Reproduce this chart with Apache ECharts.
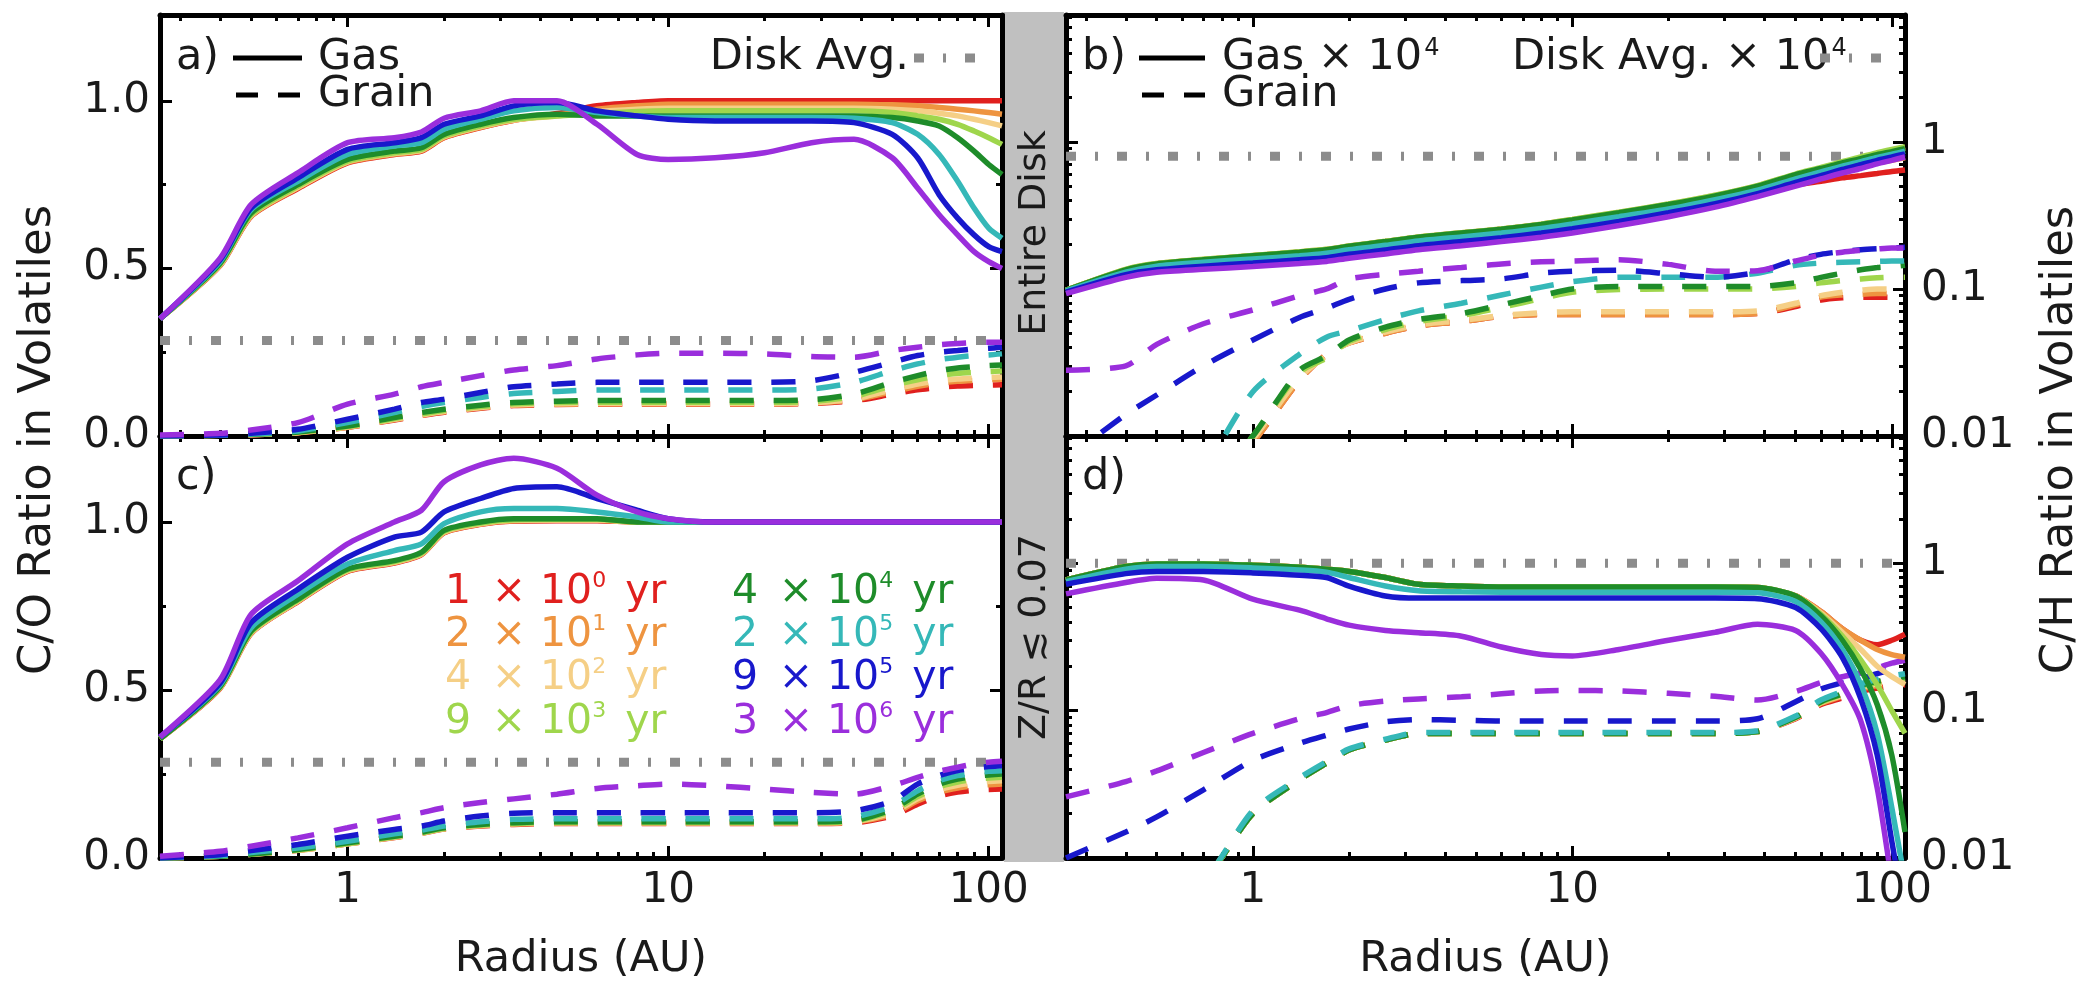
<!DOCTYPE html>
<html style="height: 100%">
<head>
    <meta charset="utf-8">
    <script src="https://cdn.jsdelivr.net/npm/echarts@6/dist/echarts.min.js"></script>
</head>
<body style="height:100%;margin:0;background:#fff">
    <div id="main" style="width:2087px;height:988px;"></div>
    <script type="text/javascript">

        // radius grid (AU) shared by every curve
        var R = [0.26, 0.4, 0.5, 0.7, 1, 1.4, 1.7, 2, 2.6, 3.3, 4.5, 6, 8, 10, 14, 20, 28, 38, 50, 60, 70, 80, 90, 100, 110];

        var AGES = ['1', '2', '4', '9', '4', '2', '9', '3'];
        var EXPS = ['0', '1', '2', '3', '4', '5', '5', '6'];
        var COLORS = ['#e0201e', '#ee9440', '#f5cf86', '#9fd64c', '#1e8c2a', '#35b8b8', '#1818cc', '#9a2edc'];

        var X_MAJOR = [1, 10, 100];
        var X_MINOR = [0.3, 0.4, 0.5, 0.6, 0.7, 0.8, 0.9, 2, 3, 4, 5, 6, 7, 8, 9, 20, 30, 40, 50, 60, 70, 80, 90];
        var CO_MAJOR = [0, 0.5, 1.0];
        var CO_MINOR = [0.25, 0.75];
        var CH_MAJOR = [0.01, 0.1, 1];
        var CH_MINOR = [0.02, 0.03, 0.04, 0.05, 0.06, 0.07, 0.08, 0.09, 0.2, 0.3, 0.4, 0.5, 0.6, 0.7, 0.8, 0.9, 2, 3, 4, 5, 6, 7];

        // disk averages: a, b, c, d
        var DISK_AVG = [0.285, 0.8, 0.285, 1.0];

        // ---- panel a: C/O, entire disk ----
        var aGas_1e0 = [.35,.508,.655,.738,.815,.84,.85,.89,.92,.942,.962,.985,.995,1,1,1,1,1,1,1,1,1,1,1,1];
        var aGas_2e1 = [.35,.51,.656,.74,.816,.841,.851,.891,.921,.942,.958,.975,.985,.99,.99,.99,.99,.99,.988,.985,.98,.975,.97,.965,.96];
        var aGas_4e2 = [.35,.51,.658,.742,.818,.843,.853,.893,.923,.943,.955,.968,.975,.978,.978,.978,.978,.978,.975,.97,.963,.955,.945,.935,.925];
        var aGas_9e3 = [.35,.512,.66,.745,.82,.845,.855,.895,.925,.945,.955,.962,.968,.97,.97,.97,.97,.97,.965,.955,.945,.93,.91,.89,.87];
        var aGas_4e4 = [.35,.515,.665,.75,.825,.85,.86,.9,.93,.95,.96,.955,.955,.955,.955,.955,.955,.955,.95,.94,.925,.89,.85,.81,.78];
        var aGas_2e5 = [.35,.52,.675,.76,.84,.865,.875,.915,.945,.97,.98,.965,.955,.95,.95,.95,.95,.948,.935,.9,.84,.76,.68,.62,.59];
        var aGas_9e5 = [.35,.525,.68,.77,.855,.875,.89,.93,.955,.985,.995,.97,.955,.945,.94,.94,.94,.935,.9,.83,.72,.65,.6,.565,.55];
        var aGas_3e6 = [.35,.53,.69,.785,.875,.89,.907,.948,.97,1.0,1.0,.93,.84,.825,.83,.845,.875,.885,.83,.74,.66,.6,.55,.52,.5];

        var aGrain_1e0 = [0,.002,.004,.01,.026,.048,.061,.071,.083,.091,.094,.095,.095,.095,.095,.095,.097,.105,.125,.138,.145,.149,.151,.152,.153];
        var aGrain_2e1 = [0,.002,.004,.01,.026,.049,.062,.072,.084,.092,.095,.096,.096,.096,.096,.096,.098,.108,.132,.148,.158,.163,.166,.168,.169];
        var aGrain_4e2 = [0,.002,.004,.01,.027,.05,.063,.073,.085,.093,.096,.097,.097,.097,.097,.097,.099,.11,.138,.155,.165,.17,.173,.175,.176];
        var aGrain_9e3 = [0,.002,.005,.011,.028,.052,.066,.076,.088,.096,.1,.101,.101,.101,.101,.101,.103,.118,.15,.168,.18,.187,.19,.192,.194];
        var aGrain_4e4 = [0,.002,.005,.012,.03,.055,.07,.08,.092,.1,.104,.106,.106,.106,.106,.106,.108,.125,.16,.18,.195,.203,.207,.21,.212];
        var aGrain_2e5 = [0,.002,.006,.015,.04,.07,.088,.1,.115,.127,.133,.137,.137,.137,.137,.137,.14,.16,.195,.215,.228,.235,.24,.242,.245];
        var aGrain_9e5 = [0,.003,.008,.02,.05,.08,.1,.11,.13,.147,.155,.16,.16,.16,.16,.16,.165,.19,.22,.24,.25,.255,.26,.262,.265];
        var aGrain_3e6 = [.003,.008,.018,.04,.095,.125,.147,.16,.18,.197,.21,.23,.242,.247,.247,.245,.237,.235,.255,.265,.272,.276,.279,.28,.28];

        // ---- panel b: C/H x 1e4, entire disk ----
        var bGas_1e0 = [.098,.135,.148,.158,.168,.178,.185,.195,.21,.225,.24,.255,.275,.295,.32,.36,.41,.46,.51,.54,.57,.59,.61,.63,.645];
        var bGas_2e1 = [.098,.135,.148,.158,.168,.178,.185,.195,.21,.225,.24,.255,.275,.295,.325,.365,.415,.48,.56,.6,.64,.68,.72,.75,.78];
        var bGas_4e2 = [.098,.136,.149,.159,.169,.179,.186,.196,.211,.226,.241,.256,.276,.297,.333,.378,.434,.505,.6,.66,.72,.78,.83,.87,.91];
        var bGas_9e3 = [.098,.136,.149,.159,.169,.179,.186,.196,.211,.226,.241,.256,.276,.297,.333,.378,.434,.505,.605,.67,.735,.79,.845,.89,.93];
        var bGas_4e4 = [.098,.135,.148,.158,.168,.178,.185,.195,.21,.225,.24,.255,.275,.295,.33,.375,.43,.5,.6,.66,.72,.77,.82,.86,.9];
        var bGas_2e5 = [.097,.13,.143,.152,.16,.168,.175,.185,.198,.212,.226,.24,.258,.277,.31,.35,.405,.47,.56,.625,.685,.735,.785,.825,.865];
        var bGas_9e5 = [.095,.125,.135,.143,.15,.158,.163,.172,.184,.197,.21,.223,.24,.257,.288,.33,.38,.445,.53,.59,.65,.7,.75,.79,.83];
        var bGas_3e6 = [.093,.12,.13,.136,.142,.149,.154,.162,.173,.185,.197,.21,.225,.24,.27,.31,.36,.425,.5,.56,.615,.66,.71,.75,.79];

        var bGrain_1e0 = [.0005,.001,.002,.004,.009,.024,.036,.043,.05,.056,.06,.065,.067,.067,.067,.067,.067,.068,.076,.084,.087,.088,.088,.088,.088];
        var bGrain_2e1 = [.0005,.001,.002,.004,.009,.024,.036,.043,.05,.056,.06,.065,.067,.067,.067,.067,.067,.068,.078,.088,.091,.092,.093,.093,.093];
        var bGrain_4e2 = [.0005,.001,.002,.004,.0095,.025,.035,.043,.051,.057,.061,.066,.069,.07,.07,.07,.07,.071,.08,.09,.095,.098,.1,.1,.1];
        var bGrain_9e3 = [.0005,.001,.002,.004,.01,.027,.034,.044,.053,.06,.066,.075,.086,.095,.099,.1,.1,.1,.104,.11,.114,.117,.119,.12,.12];
        var bGrain_4e4 = [.0005,.001,.002,.004,.01,.028,.035,.045,.055,.062,.068,.078,.09,.1,.104,.104,.104,.104,.11,.12,.128,.135,.14,.142,.145];
        var bGrain_2e5 = [.001,.002,.003,.006,.02,.036,.047,.052,.062,.071,.08,.091,.103,.112,.12,.12,.12,.128,.145,.15,.152,.153,.154,.155,.155];
        var bGrain_9e5 = [.007,.014,.019,.03,.045,.064,.074,.085,.1,.11,.114,.117,.128,.132,.134,.127,.12,.13,.158,.172,.18,.185,.188,.19,.192];
        var bGrain_3e6 = [.028,.03,.042,.058,.072,.09,.1,.117,.126,.132,.14,.148,.153,.155,.158,.147,.132,.133,.155,.17,.178,.183,.187,.19,.19];

        // ---- panel c: C/O, Z/R <= 0.07 ----
        var cGas_1e0 = [.355,.505,.668,.763,.853,.878,.903,.968,.993,1.003,1.004,1.004,1,1,1,1,1,1,1,1,1,1,1,1,1];
        var cGas_2e1 = [.355,.506,.669,.764,.854,.879,.904,.969,.994,1.004,1.005,1.005,1,1,1,1,1,1,1,1,1,1,1,1,1];
        var cGas_4e2 = [.355,.507,.67,.765,.855,.88,.905,.97,.995,1.005,1.006,1.006,1,1,1,1,1,1,1,1,1,1,1,1,1];
        var cGas_9e3 = [.355,.508,.672,.767,.857,.882,.907,.972,.997,1.007,1.008,1.008,1,1,1,1,1,1,1,1,1,1,1,1,1];
        var cGas_4e4 = [.355,.51,.675,.77,.86,.885,.91,.975,1.0,1.01,1.01,1.01,1,1,1,1,1,1,1,1,1,1,1,1,1];
        var cGas_2e5 = [.36,.515,.685,.785,.875,.915,.935,.995,1.03,1.04,1.04,1.03,1.015,1,1,1,1,1,1,1,1,1,1,1,1];
        var cGas_9e5 = [.36,.52,.70,.80,.895,.955,.97,1.03,1.07,1.1,1.105,1.07,1.035,1.01,1,1,1,1,1,1,1,1,1,1,1];
        var cGas_3e6 = [.36,.53,.725,.825,.935,1.0,1.035,1.12,1.17,1.19,1.16,1.08,1.03,1.01,1,1,1,1,1,1,1,1,1,1,1];

        var cGrain_1e0 = [0,.005,.011,.023,.042,.061,.073,.086,.095,.1,.103,.103,.103,.103,.103,.103,.103,.105,.125,.16,.185,.196,.202,.204,.205];
        var cGrain_2e1 = [0,.005,.011,.023,.042,.062,.074,.087,.096,.101,.104,.104,.104,.104,.104,.104,.104,.107,.13,.17,.196,.208,.215,.218,.22];
        var cGrain_4e2 = [0,.005,.011,.023,.042,.062,.074,.087,.097,.102,.105,.105,.105,.105,.105,.105,.105,.108,.135,.176,.203,.216,.224,.228,.23];
        var cGrain_9e3 = [0,.005,.011,.024,.043,.063,.075,.088,.098,.103,.106,.106,.106,.106,.106,.106,.106,.11,.14,.183,.212,.226,.234,.238,.24];
        var cGrain_4e4 = [0,.005,.012,.025,.045,.065,.077,.09,.1,.105,.108,.108,.108,.108,.108,.108,.108,.112,.145,.19,.22,.235,.243,.247,.25];
        var cGrain_2e5 = [0,.007,.016,.03,.05,.072,.083,.095,.108,.115,.117,.117,.117,.117,.117,.117,.117,.122,.155,.2,.23,.245,.253,.258,.26];
        var cGrain_9e5 = [0,.01,.022,.04,.065,.085,.095,.11,.125,.133,.135,.135,.135,.135,.135,.135,.135,.14,.17,.22,.245,.26,.268,.272,.275];
        var cGrain_3e6 = [.005,.02,.035,.06,.09,.12,.135,.15,.165,.176,.19,.207,.215,.22,.215,.205,.195,.19,.215,.24,.258,.27,.28,.285,.288];

        // ---- panel d: C/H x 1e4, Z/R <= 0.07 ----
        var dGas_1e0 = [.77,.95,.99,.99,.97,.94,.91,.88,.8,.72,.7,.69,.69,.69,.69,.69,.69,.685,.6,.47,.36,.3,.28,.3,.33];
        var dGas_2e1 = [.77,.95,.99,.99,.97,.94,.91,.88,.8,.72,.7,.69,.69,.69,.69,.69,.69,.685,.6,.47,.36,.3,.26,.24,.23];
        var dGas_4e2 = [.77,.95,.99,.99,.97,.94,.91,.88,.8,.72,.7,.69,.69,.69,.69,.69,.69,.685,.6,.46,.34,.26,.2,.17,.15];
        var dGas_9e3 = [.77,.95,.99,.99,.97,.94,.91,.88,.8,.72,.7,.69,.69,.69,.69,.69,.69,.685,.6,.45,.32,.22,.15,.1,.07];
        var dGas_4e4 = [.77,.95,.99,.99,.97,.94,.91,.88,.8,.72,.7,.69,.69,.69,.69,.69,.69,.685,.6,.44,.3,.19,.11,.05,.015];
        var dGas_2e5 = [.75,.91,.95,.95,.93,.9,.87,.8,.7,.65,.64,.635,.635,.635,.635,.635,.635,.63,.55,.4,.26,.15,.07,.022,.007];
        var dGas_9e5 = [.72,.85,.88,.88,.86,.83,.8,.7,.6,.58,.58,.58,.58,.58,.58,.58,.58,.575,.5,.36,.23,.12,.05,.013,.004];
        var dGas_3e6 = [.62,.74,.79,.77,.57,.48,.42,.38,.35,.338,.32,.27,.24,.235,.26,.3,.34,.385,.35,.245,.15,.085,.03,.007,.002];

        var dGrain_1e0 = [.002,.004,.005,.007,.02,.034,.044,.054,.063,.07,.07,.07,.07,.07,.07,.07,.07,.072,.088,.11,.122,.135,.142,.147,.15];
        var dGrain_2e1 = [.002,.004,.005,.007,.02,.034,.044,.054,.063,.07,.07,.07,.07,.07,.07,.07,.07,.072,.089,.112,.125,.14,.148,.153,.156];
        var dGrain_4e2 = [.002,.004,.005,.007,.02,.034,.044,.054,.063,.07,.07,.07,.07,.07,.07,.07,.07,.072,.089,.113,.127,.143,.152,.158,.162];
        var dGrain_9e3 = [.002,.004,.005,.007,.02,.034,.044,.054,.063,.07,.07,.07,.07,.07,.07,.07,.07,.072,.09,.114,.129,.146,.155,.162,.166];
        var dGrain_4e4 = [.002,.004,.005,.007,.02,.034,.044,.054,.063,.07,.07,.07,.07,.07,.07,.07,.07,.072,.09,.115,.13,.148,.158,.165,.17];
        var dGrain_2e5 = [.002,.004,.005,.007,.021,.035,.045,.055,.064,.071,.071,.071,.071,.071,.071,.071,.071,.073,.092,.118,.135,.152,.163,.172,.178];
        var dGrain_9e5 = [.01,.015,.019,.029,.046,.06,.068,.075,.084,.087,.086,.085,.085,.085,.085,.085,.085,.088,.115,.14,.155,.165,.178,.19,.2];
        var dGrain_3e6 = [.026,.033,.039,.052,.07,.088,.097,.108,.116,.12,.124,.13,.136,.137,.136,.131,.125,.118,.135,.155,.17,.18,.195,.21,.22];

        var PANEL_GAS = [
            [aGas_1e0, aGas_2e1, aGas_4e2, aGas_9e3, aGas_4e4, aGas_2e5, aGas_9e5, aGas_3e6],
            [bGas_1e0, bGas_2e1, bGas_4e2, bGas_9e3, bGas_4e4, bGas_2e5, bGas_9e5, bGas_3e6],
            [cGas_1e0, cGas_2e1, cGas_4e2, cGas_9e3, cGas_4e4, cGas_2e5, cGas_9e5, cGas_3e6],
            [dGas_1e0, dGas_2e1, dGas_4e2, dGas_9e3, dGas_4e4, dGas_2e5, dGas_9e5, dGas_3e6]
        ];
        var PANEL_GRAIN = [
            [aGrain_1e0, aGrain_2e1, aGrain_4e2, aGrain_9e3, aGrain_4e4, aGrain_2e5, aGrain_9e5, aGrain_3e6],
            [bGrain_1e0, bGrain_2e1, bGrain_4e2, bGrain_9e3, bGrain_4e4, bGrain_2e5, bGrain_9e5, bGrain_3e6],
            [cGrain_1e0, cGrain_2e1, cGrain_4e2, cGrain_9e3, cGrain_4e4, cGrain_2e5, cGrain_9e5, cGrain_3e6],
            [dGrain_1e0, dGrain_2e1, dGrain_4e2, dGrain_9e3, dGrain_4e4, dGrain_2e5, dGrain_9e5, dGrain_3e6]
        ];

        var FONT = '"DejaVu Sans", "Noto Sans", sans-serif';
        var X_MIN = 0.26, X_MAX = 110, CO_MAX = 1.256, CH_MIN = 0.01, CH_MAX = 7.3;

        var myChart = echarts.init(document.getElementById('main'), null, {renderer: 'canvas'});

        var grids = [
            {left: 160, top: 15, width: 842, height: 421},
            {left: 1066, top: 15, width: 839, height: 421},
            {left: 160, top: 436, width: 842, height: 422},
            {left: 1066, top: 436, width: 839, height: 422}
        ];
        grids.forEach(function (g) { g.containLabel = false; g.outerBoundsMode = 'none'; });

        function fmt(v) { return String(Number(Number(v).toPrecision(3))); }

        function mkAxis(dim, g, pos, type, min, max, ticks, len, line, labels, labelVals) {
            var ax = {
                type: type, gridIndex: g, position: pos, min: min, max: max,
                axisLine: {show: line, onZero: false, lineStyle: {color: '#000', width: 5}},
                axisTick: {show: true, inside: true, length: len, customValues: ticks,
                    lineStyle: {color: '#000', width: 3}},
                axisLabel: {show: false},
                splitLine: {show: false},
                minorTick: {show: false},
                silent: true
            };
            if (type === 'log') ax.logBase = 10;
            if (labels) {
                ax.axisLabel = {
                    show: true, customValues: labelVals, fontSize: 42, fontFamily: FONT, color: '#1a1a1a',
                    margin: dim === 'x' ? 12 : (pos === 'left' ? 10 : 16),
                    formatter: type === 'log' ? fmt : function (v) { return Number(v).toFixed(1); }
                };
            }
            return ax;
        }

        var xAxes = [], yAxes = [];
        for (var g = 0; g < 4; g++) {
            var bottomRow = g >= 2, rightCol = g % 2 === 1;
            var xm = mkAxis('x', g, 'bottom', 'log', X_MIN, X_MAX, X_MAJOR, 12, true, bottomRow, X_MAJOR);
            if (bottomRow) {
                xm.name = 'Radius (AU)';
                xm.nameLocation = 'middle';
                xm.nameGap = 80;
                xm.nameTextStyle = {fontSize: 43, fontFamily: FONT, color: '#1a1a1a'};
            }
            xAxes.push(xm,
                mkAxis('x', g, 'top', 'log', X_MIN, X_MAX, X_MAJOR, 12, true, false),
                mkAxis('x', g, 'bottom', 'log', X_MIN, X_MAX, X_MINOR, 6, false, false),
                mkAxis('x', g, 'top', 'log', X_MIN, X_MAX, X_MINOR, 6, false, false));
            if (rightCol) {
                yAxes.push(mkAxis('y', g, 'right', 'log', CH_MIN, CH_MAX, CH_MAJOR, 12, true, true, CH_MAJOR),
                    mkAxis('y', g, 'left', 'log', CH_MIN, CH_MAX, CH_MAJOR, 12, true, false),
                    mkAxis('y', g, 'right', 'log', CH_MIN, CH_MAX, CH_MINOR, 6, false, false),
                    mkAxis('y', g, 'left', 'log', CH_MIN, CH_MAX, CH_MINOR, 6, false, false));
            } else {
                yAxes.push(mkAxis('y', g, 'left', 'value', 0, CO_MAX, CO_MAJOR, 12, true, true, CO_MAJOR),
                    mkAxis('y', g, 'right', 'value', 0, CO_MAX, CO_MAJOR, 12, true, false),
                    mkAxis('y', g, 'left', 'value', 0, CO_MAX, CO_MINOR, 6, false, false),
                    mkAxis('y', g, 'right', 'value', 0, CO_MAX, CO_MINOR, 6, false, false));
            }
        }

        function pairs(vals) {
            return R.map(function (r, i) { return [r, vals[i]]; });
        }

        var series = [];
        for (var p = 0; p < 4; p++) {
            series.push({
                type: 'line', xAxisIndex: 4 * p, yAxisIndex: 4 * p, symbol: 'none', silent: true,
                data: [[X_MIN, DISK_AVG[p]], [X_MAX, DISK_AVG[p]]],
                lineStyle: {color: '#8c8c8c', width: 9, type: [10, 19, 3, 19], cap: 'butt'}, z: 1
            });
            for (var k = 0; k < 8; k++) {
                series.push({
                    type: 'line', xAxisIndex: 4 * p, yAxisIndex: 4 * p, symbol: 'none', silent: true,
                    smooth: 0.25, clip: true, data: pairs(PANEL_GRAIN[p][k]),
                    lineStyle: {color: COLORS[k], width: 5.5, type: [24, 20], cap: 'butt'}, z: 2
                });
            }
            for (var k2 = 0; k2 < 8; k2++) {
                series.push({
                    type: 'line', xAxisIndex: 4 * p, yAxisIndex: 4 * p, symbol: 'none', silent: true,
                    smooth: 0.25, clip: true, data: pairs(PANEL_GAS[p][k2]),
                    lineStyle: {color: COLORS[k2], width: 5.5}, z: 3
                });
            }
        }

        function txt(x, y, text, size, opts) {
            opts = opts || {};
            return {
                type: 'text', x: x, y: y, rotation: opts.rotation || 0, z: 10,
                style: {
                    text: text, fontSize: size, fontFamily: FONT, fill: opts.color || '#1a1a1a',
                    align: opts.align || 'left', textAlign: opts.align || 'left',
                    verticalAlign: 'middle', textVerticalAlign: 'middle',
                    rich: opts.rich
                }
            };
        }
        function seg(x1, x2, y, style) {
            return {type: 'line', z: 10, shape: {x1: x1, y1: y, x2: x2, y2: y}, style: style};
        }
        var solid = {stroke: '#000', lineWidth: 5};
        var dashed = {stroke: '#000', lineWidth: 5, lineDash: [22, 20]};
        var dotted = {stroke: '#8c8c8c', lineWidth: 9, lineDash: [10, 19, 3, 19]};
        var supRich = {sup: {fontSize: 24, fontFamily: FONT, fill: '#1a1a1a', verticalAlign: 'top', padding: [0, 0, 18, 2]}};

        var graphics = [
            {type: 'rect', z: -1, shape: {x: 1004, y: 12, width: 60, height: 850}, style: {fill: '#c0c0c0'}},
            txt(1035, 233, 'Entire Disk', 38, {align: 'center', rotation: Math.PI / 2}),
            txt(1035, 637, 'Z/R \u2272 0.07', 38, {align: 'center', rotation: Math.PI / 2}),
            txt(38, 440, 'C/O Ratio in Volatiles', 45, {align: 'center', rotation: Math.PI / 2}),
            txt(2060, 440, 'C/H Ratio in Volatiles', 45, {align: 'center', rotation: Math.PI / 2}),
            // panel a legend
            txt(176, 58, 'a)', 43), seg(233, 302, 58, solid), txt(318, 58, 'Gas', 43),
            seg(236, 302, 95, dashed), txt(318, 95, 'Grain', 43),
            txt(909, 58, 'Disk Avg.', 43, {align: 'right'}), seg(914, 990, 58, dotted),
            // panel b legend
            txt(1082, 58, 'b)', 43), seg(1139, 1205, 58, solid),
            txt(1222, 58, 'Gas \u00d7 10{sup|4}', 43, {rich: supRich}),
            seg(1142, 1205, 95, dashed), txt(1222, 95, 'Grain', 43),
            txt(1512, 58, 'Disk Avg. \u00d7 10{sup|4}', 43, {rich: supRich}), seg(1820, 1892, 58, dotted),
            // panel labels c, d
            txt(176, 478, 'c)', 43), txt(1082, 478, 'd)', 43)
        ];

        // age legend inside panel c
        var ROWS_Y = [592, 635, 678, 722];
        for (var i = 0; i < 8; i++) {
            var col = i < 4 ? 0 : 1;
            var x0 = col === 0 ? 438 : 725;
            var c = COLORS[i];
            var rich = {
                n: {width: 40, align: 'center', fontSize: 41, fontFamily: FONT, fill: c},
                x: {width: 62, align: 'center', fontSize: 41, fontFamily: FONT, fill: c},
                p: {fontSize: 41, fontFamily: FONT, fill: c},
                s: {fontSize: 22, fontFamily: FONT, fill: c, verticalAlign: 'top', padding: [0, 0, 22, 0]},
                y: {fontSize: 41, fontFamily: FONT, fill: c, padding: [0, 0, 0, 19]}
            };
            graphics.push(txt(x0, ROWS_Y[i % 4],
                '{n|' + AGES[i] + '}{x|\u00d7}{p|10}{s|' + EXPS[i] + '}{y|yr}', 41, {rich: rich, color: c}));
        }

        var option = {
            backgroundColor: '#fff',
            animation: false,
            grid: grids,
            xAxis: xAxes,
            yAxis: yAxes,
            series: series,
            graphic: graphics
        };
        myChart.setOption(option);
    </script>
</body>
</html>
